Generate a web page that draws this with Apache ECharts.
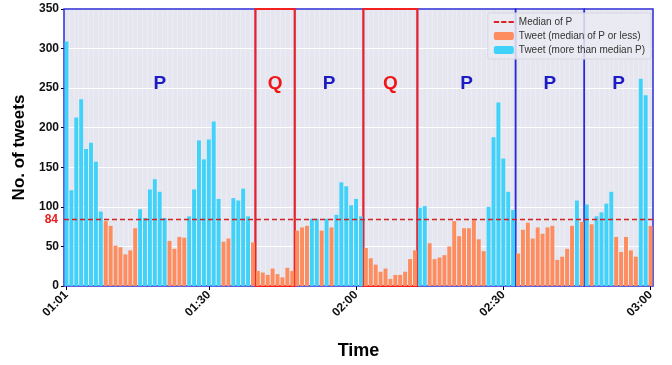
<!DOCTYPE html>
<html>
<head>
<meta charset="utf-8">
<script src="https://cdn.jsdelivr.net/npm/echarts@6/dist/echarts.min.js"></script>
<style>
html,body{margin:0;padding:0;background:#fff;}
#chart{width:672px;height:365px;}
</style>
</head>
<body>
<div id="chart"></div>
<script>
// Minute categories 01:01 .. 03:00
var categories = [
'01:01','01:02','01:03','01:04','01:05','01:06','01:07','01:08','01:09','01:10',
'01:11','01:12','01:13','01:14','01:15','01:16','01:17','01:18','01:19','01:20',
'01:21','01:22','01:23','01:24','01:25','01:26','01:27','01:28','01:29','01:30',
'01:31','01:32','01:33','01:34','01:35','01:36','01:37','01:38','01:39','01:40',
'01:41','01:42','01:43','01:44','01:45','01:46','01:47','01:48','01:49','01:50',
'01:51','01:52','01:53','01:54','01:55','01:56','01:57','01:58','01:59','02:00',
'02:01','02:02','02:03','02:04','02:05','02:06','02:07','02:08','02:09','02:10',
'02:11','02:12','02:13','02:14','02:15','02:16','02:17','02:18','02:19','02:20',
'02:21','02:22','02:23','02:24','02:25','02:26','02:27','02:28','02:29','02:30',
'02:31','02:32','02:33','02:34','02:35','02:36','02:37','02:38','02:39','02:40',
'02:41','02:42','02:43','02:44','02:45','02:46','02:47','02:48','02:49','02:50',
'02:51','02:52','02:53','02:54','02:55','02:56','02:57','02:58','02:59','03:00'
];

// Tweets per minute
var tweets = [
309,121,213,236,173,181,157,94,82,76,51,49,40,45,73,97,86,122,135,119,
86,57,47,62,61,88,122,184,160,185,208,110,56,60,111,108,123,88,55,
19,17,14,22,15,11,23,19,
70,74,76,85,85,70,85,74,90,131,126,102,110,88,
48,35,27,18,22,9,14,14,18,34,45,
99,101,54,34,36,39,50,82,63,73,73,83,59,44,100,188,232,161,119,96,
41,71,80,60,74,66,74,76,33,37,47,76,108,81,
103,78,88,93,104,119,62,43,62,45,37,262,241,76
];

var medianP = 84;
var tickLabels = ['01:01','01:30','02:00','02:30','03:00'];

// Periods: [label, first minute, last minute]
var periods = [
['P','01:01','01:39'],
['Q','01:40','01:47'],
['P','01:48','02:01'],
['Q','02:02','02:12'],
['P','02:13','02:32'],
['P','02:33','02:46'],
['P','02:47','03:00']
];

var FONT = 'Liberation Sans, Arial, sans-serif';
var low = tweets.map(function(v){ return v <= medianP ? v : '-'; });
var high = tweets.map(function(v){ return v > medianP ? v : '-'; });

function areaData(kind){
  return periods.filter(function(p){ return p[0] === kind; }).map(function(p){
    return [{name: p[0], xAxis: categories.indexOf(p[1])}, {xAxis: categories.indexOf(p[2]) + 1}];
  });
}
function showTick(idx){ return tickLabels.indexOf(categories[idx]) >= 0; }

var chart = echarts.init(document.getElementById('chart'), null, {renderer:'canvas'});
chart.setOption({
  animation: false,
  backgroundColor: '#ffffff',
  textStyle: {fontFamily: FONT},
  grid: {left: 64, right: 19, top: 9, bottom: 69, show: true, backgroundColor: '#e6e6f0', borderWidth: 0},
  legend: {
    right: 21, top: 13, orient: 'vertical', itemGap: 4, itemWidth: 20, itemHeight: 8,
    backgroundColor: 'rgba(234,234,242,0.85)', borderColor: '#d6d6e0', borderWidth: 1,
    borderRadius: 2, padding: [4, 6, 4, 6],
    textStyle: {fontSize: 10, color: '#333', fontFamily: FONT},
    data: [
      {name: 'Median of P', icon: 'path://M0,4L5,4L5,6L0,6Z M7,4L12,4L12,6L7,6Z M14,4L19,4L19,6L14,6Z', itemStyle: {color: '#e02222'}},
      {name: 'Tweet (median of P or less)'},
      {name: 'Tweet (more than median P)'}
    ]
  },
  xAxis: [{
    type: 'category', data: categories, gridIndex: 0,
    name: 'Time', nameLocation: 'middle', nameGap: 56,
    nameTextStyle: {fontSize: 18, fontWeight: 'bold', color: '#000', fontFamily: FONT},
    axisLine: {show: false},
    axisTick: {show: true, interval: showTick, alignWithLabel: true, length: 4, lineStyle: {color: '#000'}},
    axisLabel: {interval: showTick, rotate: 45, fontSize: 12, fontWeight: 'bold', color: '#111', margin: 7, fontFamily: FONT},
    splitLine: {show: true, interval: 0, lineStyle: {color: 'rgba(255,255,255,0.4)', width: 0.6}}
  }, {
    type: 'value', min: 0, max: 120, show: false, gridIndex: 0
  }],
  yAxis: {
    type: 'value', min: 0, max: 350, interval: 50,
    name: 'No. of tweets', nameLocation: 'middle', nameGap: 35,
    nameTextStyle: {fontSize: 17, fontWeight: 'bold', color: '#000', fontFamily: FONT},
    axisLine: {show: false},
    axisTick: {show: true, length: 3, lineStyle: {color: '#000'}},
    axisLabel: {fontSize: 12, fontWeight: 'bold', color: '#111', margin: 5, fontFamily: FONT},
    splitLine: {show: true, lineStyle: {color: '#ffffff', width: 1}}
  },
  series: [
    {
      name: 'Median of P', type: 'line', data: [], symbol: 'none', z: 6,
      lineStyle: {color: '#e02222', type: 'dashed', width: 1.3},
      itemStyle: {color: '#e02222'},
      markLine: {
        silent: true, symbol: 'none',
        lineStyle: {color: '#d42020', type: [5, 3], width: 1.3},
        label: {show: true, position: 'start', formatter: String(medianP), color: '#e81c1c', fontWeight: 'bold', fontSize: 12, distance: 6, fontFamily: FONT},
        data: [{yAxis: medianP}]
      }
    },
    {
      name: 'Tweet (median of P or less)', type: 'bar', stack: 't', data: low,
      barCategoryGap: '20%', itemStyle: {color: '#fd8c5e'}, z: 2
    },
    {
      name: 'Tweet (more than median P)', type: 'bar', stack: 't', data: high,
      barCategoryGap: '20%', itemStyle: {color: '#41d2fa'}, z: 2
    },
    {
      name: 'P areas', type: 'line', xAxisIndex: 1, data: [], z: 5,
      markArea: {
        silent: true,
        itemStyle: {color: 'rgba(0,0,0,0)', borderColor: '#2b2bd6', borderWidth: 1.5},
        label: {show: true, position: ['50%', 76], align: 'center', verticalAlign: 'middle', color: '#1c1cc4', fontSize: 19, fontWeight: 'bold', fontFamily: FONT},
        data: areaData('P')
      }
    },
    {
      name: 'Q areas', type: 'line', xAxisIndex: 1, data: [], z: 6,
      markArea: {
        silent: true,
        itemStyle: {color: 'rgba(0,0,0,0)', borderColor: '#f42020', borderWidth: 2},
        label: {show: true, position: ['50%', 76], align: 'center', verticalAlign: 'middle', color: '#f01616', fontSize: 19, fontWeight: 'bold', fontFamily: FONT},
        data: areaData('Q')
      }
    }
  ]
});
</script>
</body>
</html>
